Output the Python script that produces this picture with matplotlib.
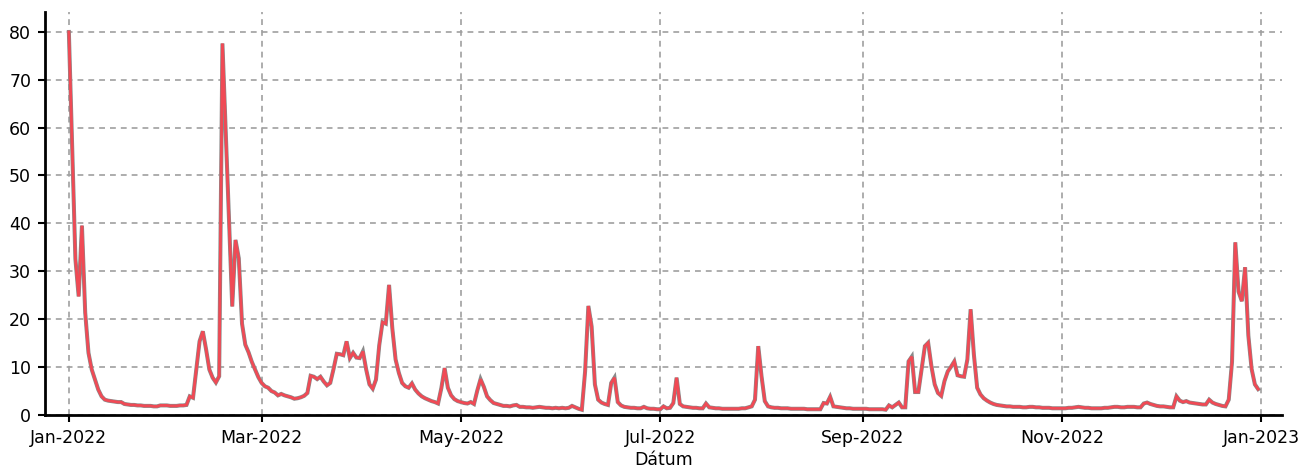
import numpy as np
import pandas as pd
import matplotlib
matplotlib.use("Agg")
import matplotlib.pyplot as plt
import matplotlib.dates as mdates
import matplotlib.patheffects as pe

# daily values, one list per month (2022)
jan = [80.0, 56.0, 32.5, 24.7, 39.5, 21.3, 12.9, 9.4, 7.3, 5.2, 3.8, 3.1, 2.9, 2.8, 2.7, 2.6,
       2.6, 2.2, 2.1, 2.0, 2.0, 1.9, 1.9, 1.8, 1.8, 1.8, 1.7, 1.7, 1.9, 1.9, 1.9]
feb = [1.8, 1.8, 1.8, 1.9, 1.9, 2.0, 3.8, 3.5, 9.5, 15.3, 17.4, 13.6, 9.4, 7.7, 6.7, 8.0,
       77.6, 59.0, 41.0, 22.6, 36.5, 32.7, 19.0, 14.6, 13.0, 11.0, 9.4, 7.8]
mar = [6.6, 5.9, 5.6, 4.9, 4.6, 4.0, 4.3, 4.0, 3.8, 3.6, 3.3, 3.4, 3.6, 3.9, 4.5, 8.1,
       7.9, 7.4, 7.9, 6.9, 6.1, 6.6, 9.5, 12.7, 12.6, 12.4, 15.3, 11.8, 12.9, 11.9, 11.8]
apr = [13.2, 9.4, 6.3, 5.4, 7.3, 14.5, 19.3, 19.0, 27.1, 18.0, 11.5, 8.7, 6.6, 5.9, 5.6,
       6.5, 5.2, 4.4, 3.8, 3.4, 3.1, 2.8, 2.6, 2.3, 5.5, 9.7, 5.6, 4.0, 3.2, 2.8]
may = [2.6, 2.4, 2.3, 2.6, 2.2, 5.0, 7.4, 5.8, 3.8, 3.0, 2.4, 2.2, 2.0, 1.8, 1.8, 1.7,
       1.9, 2.0, 1.6, 1.6, 1.5, 1.5, 1.4, 1.5, 1.6, 1.5, 1.4, 1.4, 1.3, 1.4, 1.3]
jun = [1.4, 1.3, 1.4, 1.8, 1.5, 1.2, 1.0, 9.0, 22.7, 18.4, 6.3, 3.1, 2.5, 2.2, 2.0, 6.6,
       7.7, 2.6, 1.9, 1.6, 1.5, 1.4, 1.4, 1.3, 1.3, 1.6, 1.3, 1.2, 1.2, 1.1]
jul = [1.1, 1.7, 1.3, 1.4, 2.4, 7.7, 2.2, 1.7, 1.6, 1.5, 1.4, 1.4, 1.3, 1.3, 2.3, 1.5,
       1.4, 1.3, 1.3, 1.2, 1.2, 1.2, 1.2, 1.2, 1.2, 1.3, 1.3, 1.5, 1.7, 3.1, 14.3]
aug = [8.0, 2.8, 1.7, 1.5, 1.4, 1.4, 1.3, 1.3, 1.3, 1.2, 1.2, 1.2, 1.2, 1.2, 1.1, 1.1,
       1.1, 1.1, 1.1, 2.4, 2.3, 3.7, 1.7, 1.6, 1.5, 1.4, 1.3, 1.3, 1.2, 1.2, 1.2]
sep = [1.2, 1.2, 1.1, 1.1, 1.1, 1.1, 1.1, 1.0, 1.9, 1.5, 2.0, 2.5, 1.5, 1.5, 11.1, 12.1,
       4.7, 4.7, 9.5, 14.3, 15.0, 10.1, 6.3, 4.5, 3.9, 7.0, 9.0, 10.0, 11.1, 8.2]
okt = [8.0, 7.9, 11.5, 22.0, 12.5, 5.6, 4.2, 3.4, 2.9, 2.5, 2.2, 2.0, 1.9, 1.8, 1.7, 1.7,
       1.6, 1.6, 1.6, 1.5, 1.5, 1.6, 1.6, 1.5, 1.5, 1.4, 1.4, 1.4, 1.3, 1.3, 1.3]
nov = [1.3, 1.3, 1.4, 1.4, 1.5, 1.6, 1.5, 1.4, 1.4, 1.3, 1.3, 1.3, 1.3, 1.4, 1.4, 1.5,
       1.6, 1.6, 1.5, 1.5, 1.6, 1.6, 1.6, 1.5, 1.5, 2.3, 2.5, 2.2, 2.0, 1.8]
dec = [1.7, 1.7, 1.6, 1.5, 1.5, 3.8, 2.9, 2.6, 2.8, 2.5, 2.4, 2.3, 2.2, 2.1, 2.1, 3.1,
       2.5, 2.2, 2.0, 1.8, 1.7, 3.1, 11.0, 36.0, 25.7, 23.7, 30.8, 16.5, 9.5, 6.3, 5.3]

values = jan + feb + mar + apr + may + jun + jul + aug + sep + okt + nov + dec
dates = pd.date_range("2022-01-01", periods=len(values), freq="D")
y_ticks = list(range(0, 81, 10))
x_label = "Dátum"

plt.rcParams["font.family"] = ["DejaVu Sans"]
fig = plt.figure(figsize=(13.01, 4.72), dpi=100)
ax = fig.add_axes([0.0346, 0.1208, 0.9508, 0.854])

ax.plot(dates, values, color="#f04a55", lw=2.0, solid_joinstyle="miter",
        path_effects=[pe.Stroke(linewidth=2.9, foreground="#8a8a8a"), pe.Normal()], zorder=3)

ax.set_xlim(dates[0] - pd.Timedelta(days=7.3), dates[-1] + pd.Timedelta(days=7.3))
ax.set_ylim(-0.1, 84.2)
ax.set_yticks(y_ticks)
ax.xaxis.set_major_locator(mdates.MonthLocator(bymonth=[1, 3, 5, 7, 9, 11]))
ax.xaxis.set_major_formatter(mdates.DateFormatter("%b-%Y"))

ax.grid(True, color="#a0a0a0", lw=1.2, linestyle=(0, (3.5, 3)))
ax.set_axisbelow(True)
for s in ["top", "right"]:
    ax.spines[s].set_visible(False)
for s in ["left", "bottom"]:
    ax.spines[s].set_linewidth(2.0)
    ax.spines[s].set_color("black")
ax.tick_params(axis="both", length=5, width=1.5, labelsize=12.5, color="black")
ax.tick_params(axis="x", pad=5)
ax.tick_params(axis="y", pad=5)
ax.set_xlabel(x_label, fontsize=12.5, labelpad=3)

fig.savefig("out.png", dpi=100)
